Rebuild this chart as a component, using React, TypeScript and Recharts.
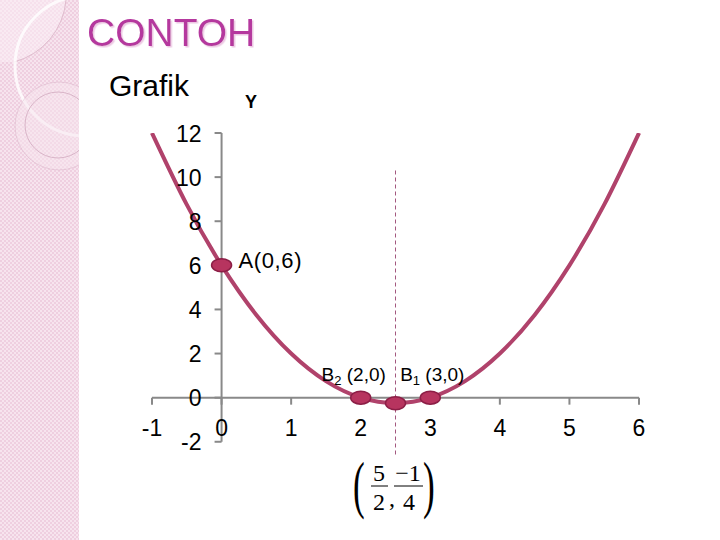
import React from "react";
import {
  ComposedChart,
  Line,
  Scatter,
  XAxis,
  YAxis,
  ReferenceLine,
  ReferenceDot,
} from "recharts";

// curve y = x^2 - 5x + 6
const curveX = [-1, -0.5, 0, 0.5, 1, 1.5, 2, 2.5, 3, 3.5, 4, 4.5, 5, 5.5, 6];
const curveY = [12, 8.75, 6, 3.75, 2, 0.75, 0, -0.25, 0, 0.75, 2, 3.75, 6, 8.75, 12];

const pointX = [0, 2, 3, 2.5];
const pointY = [6, 0, 0, -0.25];

const xTicks = [-1, 0, 1, 2, 3, 4, 5, 6];
const yTicks = [-2, 0, 2, 4, 6, 8, 10, 12];

const curveData = curveX.map((x, i) => ({ x, y: curveY[i] }));
const pointData = pointX.map((x, i) => ({ x, y: pointY[i] }));

const font = "'Liberation Sans', Arial, sans-serif";
const serif = "'Liberation Serif', 'Times New Roman', serif";
const axisColor = "#898989";
const curveColor = "#b0426b";

function Strip() {
  return (
    <div
      style={{
        position: "absolute",
        left: 0,
        top: 0,
        width: 79,
        height: 540,
        backgroundColor: "#f2d8e6",
        backgroundImage:
          "repeating-conic-gradient(#f7e4ee 0 25%, #efcfe0 0 50%)",
        backgroundSize: "4px 4px",
        overflow: "hidden",
      }}
    >
      <svg width={79} height={540} style={{ position: "absolute", left: 0, top: 0 }}>
        <path d="M0 0 L66 0 A70 70 0 0 1 14 62 L0 62 Z" fill="#fbeef5" opacity={0.55} />
        <path d="M14 62 A70 70 0 0 0 66 0" fill="none" stroke="#dfbccd" strokeWidth={1} />
        <circle cx={85} cy={66} r={70} fill="none" stroke="#ffffff" strokeWidth={3} opacity={0.8} />
        <circle cx={59} cy={126} r={44} fill="#f7e6ef" opacity={0.5} stroke="#d9b5c8" strokeWidth={1} />
        <circle cx={58} cy={125} r={33} fill="none" stroke="#d9b5c8" strokeWidth={1} />
      </svg>
    </div>
  );
}

function Headings() {
  return (
    <svg width={720} height={540} style={{ position: "absolute", left: 0, top: 0 }}>
      <defs>
        <filter id="ts" x="-5%" y="-20%" width="115%" height="150%">
          <feDropShadow dx={1.5} dy={1.5} stdDeviation={0.6} floodColor="#ecc8e3" floodOpacity={1} />
        </filter>
      </defs>
      <text x={87} y={46} fontFamily={font} fontSize={39} fill="#b5379e" filter="url(#ts)">
        CONTOH
      </text>
      <text x={109} y={96} fontFamily={font} fontSize={30} fill="#000">
        Grafik
      </text>
      <text x={245} y={108} fontFamily={font} fontSize={18} fontWeight="bold" fill="#000">
        Y
      </text>
      {/* vertex coordinate as a fraction */}
      <g fontFamily={serif} fill="#000">
        <text transform="translate(353,506) scale(0.55,1)" fontSize={64}>(</text>
        <text x={379} y={481} fontSize={24} textAnchor="middle">5</text>
        <line x1={371} y1={486} x2={388} y2={486} stroke="#000" strokeWidth={1} />
        <text x={379} y={510} fontSize={24} textAnchor="middle">2</text>
        <text x={389} y={506} fontSize={24}>,</text>
        <text x={408} y={481} fontSize={24} textAnchor="middle">−1</text>
        <line x1={394} y1={486} x2={423} y2={486} stroke="#000" strokeWidth={1} />
        <text x={409} y={510} fontSize={24} textAnchor="middle">4</text>
        <text transform="translate(423,506) scale(0.55,1)" fontSize={64}>)</text>
      </g>
    </svg>
  );
}

const yTickShape = (label: number) => (p: any) => (
  <g>
    <line x1={p.cx - 7} y1={p.cy} x2={p.cx} y2={p.cy} stroke={axisColor} strokeWidth={2} />
    <text x={p.cx - 20} y={p.cy + 8.5} textAnchor="end" fontFamily={font} fontSize={23} fill="#000">
      {label}
    </text>
  </g>
);

const xTickShape = (label: number) => (p: any) => (
  <g>
    <line x1={p.cx} y1={p.cy} x2={p.cx} y2={p.cy + 7} stroke={axisColor} strokeWidth={2} />
    <text x={p.cx} y={p.cy + 38} textAnchor="middle" fontFamily={font} fontSize={23} fill="#000">
      {label}
    </text>
  </g>
);

const markerShape = (p: any) => (
  <ellipse cx={p.cx} cy={p.cy} rx={10} ry={6.5} fill="#b7345f" stroke="#8c1e46" strokeWidth={1.5} />
);

const labelA = (p: any) => (
  <text x={p.cx + 17} y={p.cy + 3} fontFamily={font} fontSize={22} fill="#000" letterSpacing={0.6}>
    A(0,6)
  </text>
);

const labelB = (name: string, sub: string, coord: string, dx: number) => (p: any) => (
  <text x={p.cx + dx} y={p.cy - 17} textAnchor="middle" fontFamily={font} fontSize={19} fill="#000">
    {name}
    <tspan fontSize={13} dy={4}>{sub}</tspan>
    <tspan dy={-4}>{" " + coord}</tspan>
  </text>
);

export default function App() {
  return (
    <div
      style={{
        position: "absolute",
        left: 0,
        top: 0,
        width: 720,
        height: 540,
        background: "#fff",
        overflow: "hidden",
      }}
    >
      <Strip />
      <Headings />
      <div style={{ position: "absolute", left: 0, top: 0 }}>
        <ComposedChart
          width={720}
          height={540}
          margin={{ top: 133, right: 81, bottom: 85, left: 152 }}
        >
          <XAxis type="number" dataKey="x" domain={[-1, 6]} hide />
          <YAxis type="number" dataKey="y" domain={[-2.6, 12]} hide allowDataOverflow />
          <ReferenceLine
            segment={[{ x: 2.5, y: 10.3 }, { x: 2.5, y: -2.6 }]}
            stroke="#a3587f"
            strokeWidth={1}
            strokeDasharray="4 3"
            ifOverflow="visible"
          />
          <ReferenceLine
            segment={[{ x: 0, y: -2 }, { x: 0, y: 12 }]}
            stroke={axisColor}
            strokeWidth={2}
            ifOverflow="visible"
          />
          <ReferenceLine
            segment={[{ x: -1, y: 0 }, { x: 6, y: 0 }]}
            stroke={axisColor}
            strokeWidth={2}
            ifOverflow="visible"
          />
          {yTicks.map((t) => (
            <ReferenceDot key={"y" + t} x={0} y={t} shape={yTickShape(t)} ifOverflow="visible" />
          ))}
          {xTicks.map((t) => (
            <ReferenceDot key={"x" + t} x={t} y={0} shape={xTickShape(t)} ifOverflow="visible" />
          ))}
          <Line
            data={curveData}
            dataKey="y"
            type="natural"
            stroke={curveColor}
            strokeWidth={4}
            dot={false}
            activeDot={false}
            isAnimationActive={false}
          />
          <Scatter data={pointData} dataKey="y" shape={markerShape} isAnimationActive={false} />
          <ReferenceDot x={pointX[0]} y={pointY[0]} shape={labelA} ifOverflow="visible" />
          <ReferenceDot x={pointX[1]} y={pointY[1]} shape={labelB("B", "2", "(2,0)", -7)} ifOverflow="visible" />
          <ReferenceDot x={pointX[2]} y={pointY[2]} shape={labelB("B", "1", "(3,0)", 2)} ifOverflow="visible" />
        </ComposedChart>
      </div>
    </div>
  );
}
